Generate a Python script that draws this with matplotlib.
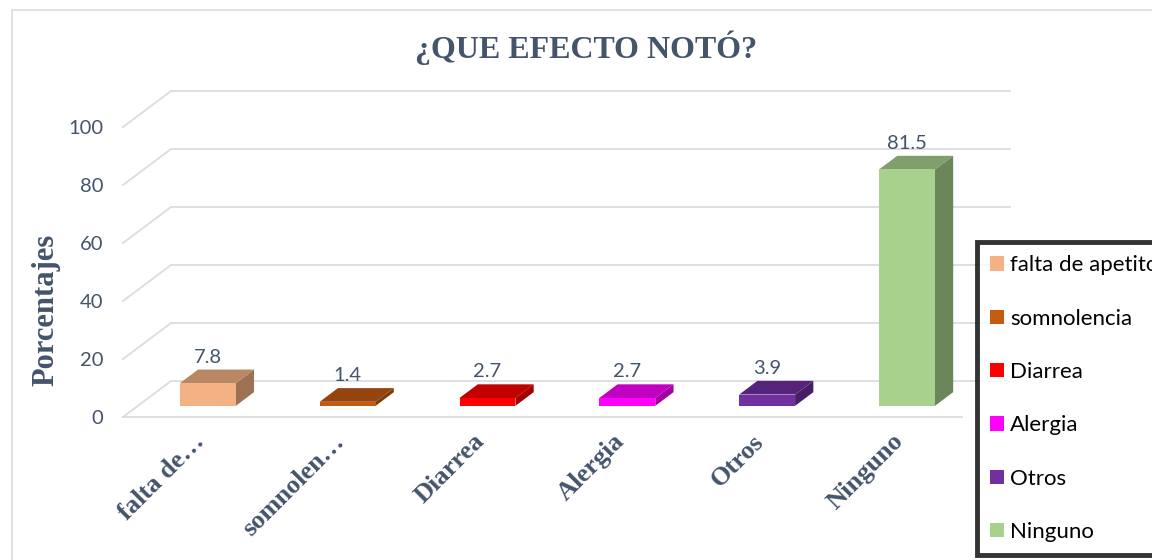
import matplotlib
matplotlib.use("Agg")
import matplotlib.pyplot as plt
from matplotlib.patches import Polygon, Rectangle, Patch
from matplotlib.transforms import ScaledTranslation
import numpy as np

# data
categories = ["falta de apetito", "somnolencia", "Diarrea", "Alergia", "Otros", "Ninguno"]
tick_labels = ["falta de\u2026", "somnolen\u2026", "Diarrea", "Alergia", "Otros", "Ninguno"]
values = [7.8, 1.4, 2.7, 2.7, 3.9, 81.5]
colors = ["#F4B183", "#C55A11", "#FF0000", "#FF00FF", "#7030A0", "#A9D18E"]
yticks = [0, 20, 40, 60, 80, 100]

W, H = 1152, 560
TXT = "#44546A"
GRID = "#D9DCE1"

fig = plt.figure(figsize=(W / 100, H / 100), dpi=100)

# chart area border (runs off the right/bottom of the picture)
fig.patches.append(Rectangle((12 / W, -0.1), 1.2, 1 - 10 / H + 0.1, transform=fig.transFigure,
                             fill=False, edgecolor=GRID, lw=1.2))

# front plane of the pseudo 3D plot
ax = fig.add_axes([123 / W, (H - 417) / H, 839 / W, 290 / H])
ax.set_xlim(-0.5, 5.5)
ax.set_ylim(0, 100)
for s in ax.spines.values():
    s.set_visible(False)

ddx = 48 / 139.8   # depth offset in category units
ddy = 36 / 2.9     # depth offset in value units
d0, d1 = 0.31, 0.69
bw = 0.4

# gridlines: front diagonal + back wall
for v in yticks:
    ax.plot([-0.5, -0.5 + ddx, 5.5 + ddx], [v, v + ddy, v + ddy], color=GRID, lw=1.3,
            clip_on=False, zorder=1)
ax.plot([-0.5, 5.5], [0, 0], color=GRID, lw=1.3, clip_on=False, zorder=1)


def shade(c, f):
    r, g, b = matplotlib.colors.to_rgb(c)
    return (r * f, g * f, b * f)


dd = d1 - d0
for i, (v, c) in enumerate(zip(values, colors)):
    x0 = i - bw / 2 + d0 * ddx
    y0 = d0 * ddy
    ox, oy = dd * ddx, dd * ddy
    front = Polygon([(x0, y0), (x0 + bw, y0), (x0 + bw, y0 + v), (x0, y0 + v)],
                    closed=True, facecolor=c, edgecolor="none", zorder=3, clip_on=False)
    top = Polygon([(x0, y0 + v), (x0 + bw, y0 + v), (x0 + bw + ox, y0 + v + oy), (x0 + ox, y0 + v + oy)],
                  closed=True, facecolor=shade(c, 0.76), edgecolor="none", zorder=2, clip_on=False)
    side = Polygon([(x0 + bw, y0), (x0 + bw, y0 + v), (x0 + bw + ox, y0 + v + oy), (x0 + bw + ox, y0 + oy)],
                   closed=True, facecolor=shade(c, 0.64), edgecolor="none", zorder=2, clip_on=False)
    for p in (side, top, front):
        ax.add_patch(p)
    ax.annotate(f"{v}", (i + d0 * ddx, v + d1 * ddy), xytext=(0, 9), textcoords="offset points",
                ha="center", va="center", fontsize=14.5, family="Lato", color=TXT, zorder=4)

ax.set_yticks(yticks)
ax.set_yticklabels([str(t) for t in yticks], fontsize=14.5, family="Lato", color=TXT)
ax.set_xticks(range(len(categories)))
ax.set_xticklabels(tick_labels, fontsize=19, family="Liberation Serif", fontweight="bold", color=TXT)
ax.tick_params(axis="y", length=0, pad=14)
ax.tick_params(axis="x", length=0, pad=15)
off = ScaledTranslation(0.08, 0, fig.dpi_scale_trans)
for lab in ax.get_xticklabels():
    lab.set_rotation(45)
    lab.set_ha("right")
    lab.set_va("center")
    lab.set_rotation_mode("anchor")
    lab.set_transform(lab.get_transform() + off)

fig.text(586 / W, 1 - 48 / H, "\u00bfQUE EFECTO NOT\u00d3?", ha="center", va="center",
         fontsize=23, family="Liberation Serif", fontweight="bold", color=TXT)
fig.text(46 / W, 1 - 310 / H, "Porcentajes", ha="center", va="center", rotation=90,
         fontsize=22, family="Liberation Serif", fontweight="bold", color=TXT)

# legend runs off the right edge like in the original
handles = [Patch(facecolor=c, edgecolor="none") for c in colors]
leg = fig.legend(handles, categories, loc="upper left", bbox_to_anchor=(977 / W, 1 - 242 / H),
                 bbox_transform=fig.transFigure, frameon=True, fancybox=False,
                 prop={"family": "Lato", "size": 16}, handlelength=0.6, handleheight=0.6,
                 handletextpad=0.3, labelspacing=1.5, borderpad=0.6, borderaxespad=0)
leg.get_frame().set_edgecolor("black")
leg.get_frame().set_linewidth(3.5)
for t in leg.get_texts():
    t.set_color("black")

fig.savefig("out.png", dpi=100)
